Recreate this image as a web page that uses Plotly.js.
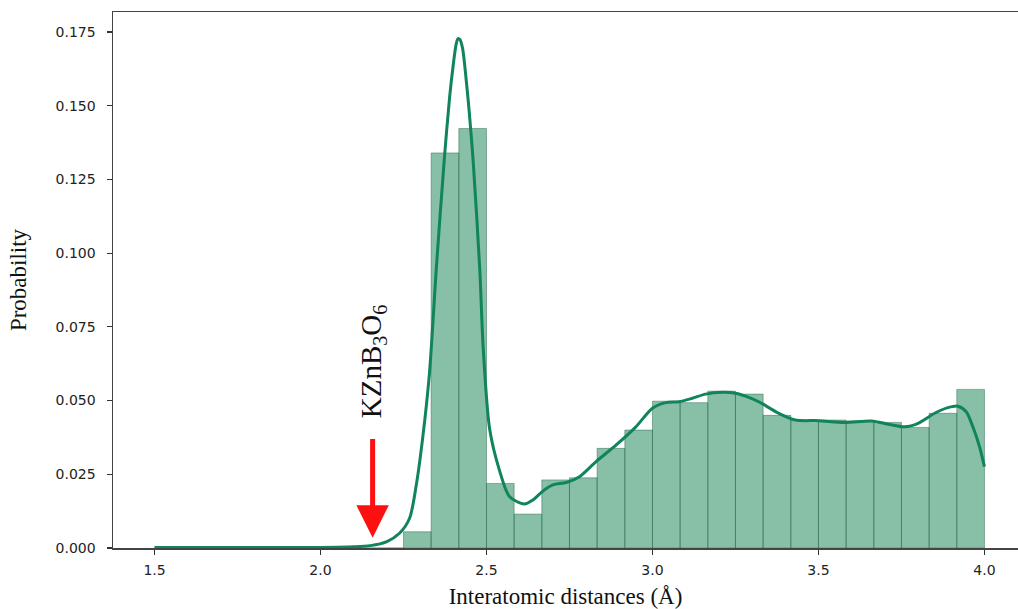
<!DOCTYPE html>
<html>
<head>
<meta charset="utf-8">
<script src="https://cdn.plot.ly/plotly-3.0.1.min.js"></script>
<style>html,body{margin:0;padding:0;background:#fff;overflow:hidden}</style>
</head>
<body>
<div id="chart" style="width:1018px;height:609px"></div>
<script>
// Histogram: 30 bins between 1.5 and 4.0 Å
const binEdges = [1.5,1.5833,1.6667,1.75,1.8333,1.9167,2.0,2.0833,2.1667,2.25,2.3333,2.4167,2.5,2.5833,2.6667,2.75,2.8333,2.9167,3.0,3.0833,3.1667,3.25,3.3333,3.4167,3.5,3.5833,3.6667,3.75,3.8333,3.9167,4.0];
const probability = [0,0,0,0,0,0,0,0,0,
  0.0055,0.1340,0.1423,0.0219,0.0115,0.0231,0.0238,0.0338,0.0400,0.0498,0.0493,
  0.0532,0.0522,0.0450,0.0434,0.0434,0.0431,0.0426,0.0409,0.0457,0.0538];

// KDE curve
const kdeX = [1.5,1.7,1.9,2.0,2.1,2.15,2.2,2.238,2.268,2.288,2.308,2.328,2.349,2.373,2.389,2.400,2.408,2.414,2.420,2.428,2.436,2.448,2.46,2.48,2.49,2.51,2.54,2.569,2.614,2.64,2.67,2.70,2.74,2.78,2.83,2.89,2.95,3.0,3.04,3.08,3.12,3.16,3.21,3.25,3.29,3.32,3.38,3.43,3.50,3.58,3.66,3.71,3.76,3.80,3.85,3.89,3.92,3.945,3.965,3.985,4.0];
const kdeY = [0.0002,0.0002,0.0002,0.0002,0.0004,0.0008,0.0022,0.005,0.0100,0.021,0.0375,0.059,0.095,0.132,0.153,0.164,0.1705,0.1728,0.1725,0.1695,0.162,0.148,0.131,0.094,0.068,0.040,0.026,0.0175,0.0149,0.0163,0.0193,0.0214,0.0222,0.0242,0.0293,0.0349,0.0411,0.0474,0.0493,0.0496,0.0508,0.0522,0.0528,0.0525,0.0511,0.0496,0.0457,0.0434,0.0432,0.0426,0.0431,0.0420,0.0411,0.0423,0.0457,0.0476,0.0481,0.0462,0.0411,0.0344,0.0276];

const xTicks = [1.5,2.0,2.5,3.0,3.5,4.0];
const yTicks = [0,0.025,0.05,0.075,0.1,0.125,0.15,0.175];

const centers = probability.map((_, i) => (binEdges[i] + binEdges[i+1]) / 2);
const widths = probability.map((_, i) => binEdges[i+1] - binEdges[i]);

const bars = {
  type: 'bar', x: centers, y: probability, width: widths,
  marker: {color: 'rgba(16,128,80,0.5)', line: {color: 'rgba(40,100,70,0.45)', width: 1}},
  hoverinfo: 'skip', showlegend: false
};
const kde = {
  type: 'scatter', mode: 'lines', x: kdeX, y: kdeY,
  line: {color: '#10845a', width: 3, shape: 'spline', smoothing: 0.8},
  hoverinfo: 'skip', showlegend: false
};

const tickFont = {family: 'DejaVu Sans', size: 14, color: '#222'};
const layout = {
  width: 1018, height: 609,
  margin: {l: 113, r: 0, t: 12, b: 61},
  paper_bgcolor: '#fff', plot_bgcolor: '#fff',
  bargap: 0,
  xaxis: {
    range: [1.375, 4.101], tickvals: xTicks, ticktext: xTicks.map(v => v.toFixed(1)),
    ticks: 'outside', ticklen: 5, tickwidth: 1.2, tickcolor: '#333',
    showgrid: false, zeroline: false, showline: true, mirror: true,
    linecolor: '#444', linewidth: 1.5, tickfont: tickFont, ticklabelstandoff: 4,
    title: {text: 'Interatomic distances (Å)', font: {family: 'Liberation Serif', size: 23, color: '#111'}, standoff: 12}
  },
  yaxis: {
    range: [0, 0.1818], tickvals: yTicks, ticktext: yTicks.map(v => v.toFixed(3)),
    ticks: 'outside', ticklen: 5, tickwidth: 1.2, tickcolor: '#333',
    showgrid: false, zeroline: false, showline: true, mirror: true,
    linecolor: '#444', linewidth: 1.5, tickfont: tickFont, ticklabelstandoff: 8,
    title: {text: 'Probability', font: {family: 'Liberation Serif', size: 23, color: '#111'}, standoff: 22}
  },
  annotations: [
    {x: 2.157, y: 0.0035, xref: 'x', yref: 'y', ax: 2.157, ay: 0.0375, axref: 'x', ayref: 'y',
     showarrow: true, arrowhead: 2, arrowsize: 1.3, arrowwidth: 5, arrowcolor: '#ff1010', text: ''},
    {x: 2.157, y: 0.0632, xref: 'x', yref: 'y', showarrow: false, textangle: -90,
     text: 'KZnB<sub>3</sub>O<sub>6</sub>', font: {family: 'Liberation Serif', size: 29, color: '#111'}}
  ]
};

Plotly.newPlot('chart', [bars, kde], layout, {staticPlot: true, displayModeBar: false});
</script>
</body>
</html>
